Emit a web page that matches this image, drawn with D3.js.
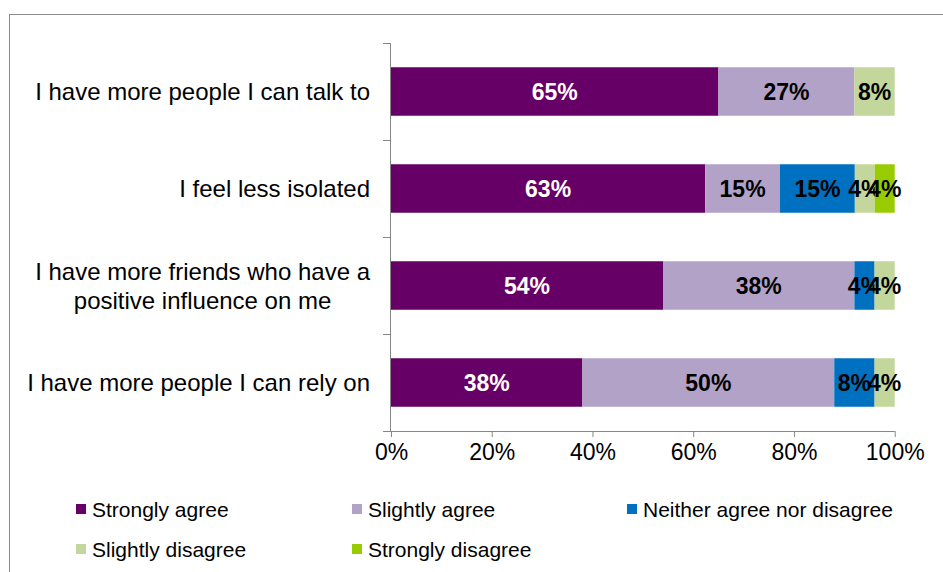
<!DOCTYPE html>
<html>
<head>
<meta charset="utf-8">
<script src="https://cdn.jsdelivr.net/npm/d3@7"></script>
<style>
  html, body { margin: 0; padding: 0; background: #fff; }
  svg { display: block; font-family: "Liberation Sans", Arial, sans-serif; }
</style>
</head>
<body>
<svg id="chart" width="943" height="572"></svg>
<script>
// Survey statements (top to bottom) and response shares in percent
const statements = [
  ["I have more people I can talk to"],
  ["I feel less isolated"],
  ["I have more friends who have a", "positive influence on me"],
  ["I have more people I can rely on"]
];
const responses = ["Strongly agree", "Slightly agree", "Neither agree nor disagree", "Slightly disagree", "Strongly disagree"];
const stronglyAgree    = [65, 63, 54, 38];
const slightlyAgree    = [27, 15, 38, 50];
const neither          = [0, 15, 4, 8];
const slightlyDisagree = [8, 4, 4, 4];
const stronglyDisagree = [0, 4, 0, 0];
const xTicks = [0, 0.2, 0.4, 0.6, 0.8, 1];

const colors = ["#660066", "#B3A2C7", "#0070C0", "#C3D69B", "#99CC00"];
const labelColors = ["#ffffff", "#000000", "#000000", "#000000", "#000000"];

const series = [stronglyAgree, slightlyAgree, neither, slightlyDisagree, stronglyDisagree];
const rows = statements.map((s, i) => {
  const r = { id: i };
  responses.forEach((k, j) => { r[k] = series[j][i]; });
  return r;
});

const stacked = d3.stack().keys(responses).offset(d3.stackOffsetExpand)(rows);

const svg = d3.select("#chart");

// outer chart frame
svg.append("rect")
  .attr("x", 9.5).attr("y", 14.5)
  .attr("width", 1000).attr("height", 700)
  .attr("fill", "none").attr("stroke", "#8c8c8c").attr("stroke-width", 1);

const plotLeft = 391, plotRight = 894.7, plotTop = 43, plotBottom = 431;

const x = d3.scaleLinear().domain([0, 1]).range([plotLeft, plotRight]);
const y = d3.scaleBand().domain(rows.map(r => r.id)).range([plotTop, plotBottom]).paddingInner(0.5).paddingOuter(0.25);

// bar segments
const layer = svg.append("g").selectAll("g")
  .data(stacked).join("g")
  .attr("fill", (d, i) => colors[i]);

layer.selectAll("rect")
  .data(d => d.map(p => ({ p, key: d.key })))
  .join("rect")
  .attr("x", d => x(d.p[0]))
  .attr("y", d => y(d.p.data.id))
  .attr("width", d => Math.max(0, x(d.p[1]) - x(d.p[0])))
  .attr("height", y.bandwidth());

// value labels
layer.each(function (d, i) {
  d3.select(this).selectAll("text")
    .data(d.filter(p => p.data[d.key] > 0))
    .join("text")
    .attr("x", p => (x(p[0]) + x(p[1])) / 2)
    .attr("y", p => y(p.data.id) + y.bandwidth() / 2)
    .attr("dy", "0.36em")
    .attr("text-anchor", "middle")
    .attr("fill", labelColors[i])
    .attr("font-size", 23)
    .attr("font-weight", "bold")
    .text(p => p.data[d.key] + "%");
});

const axisColor = "#868686";

// x axis
const xAxis = svg.append("g")
  .attr("transform", `translate(0,${plotBottom})`)
  .call(d3.axisBottom(x).tickValues(xTicks).tickFormat(d3.format(".0%")).tickSize(6).tickSizeOuter(0).tickPadding(7));
xAxis.select(".domain").attr("stroke", axisColor).attr("d", `M${plotLeft - 8},0.5H${plotRight}`);
xAxis.selectAll(".tick line").attr("stroke", axisColor);
xAxis.selectAll(".tick text").attr("font-size", 23).attr("fill", "#000").attr("font-family", "Liberation Sans, Arial, sans-serif");

// y axis with ticks between categories
const yAxis = svg.append("g");
yAxis.append("line")
  .attr("x1", plotLeft - 0.5).attr("x2", plotLeft - 0.5)
  .attr("y1", plotTop).attr("y2", plotBottom)
  .attr("stroke", axisColor);
const step = y.step();
yAxis.selectAll("line.tk")
  .data(d3.range(rows.length + 1))
  .join("line").attr("class", "tk")
  .attr("x1", plotLeft - 8).attr("x2", plotLeft)
  .attr("y1", i => plotTop + i * step + 0.5).attr("y2", i => plotTop + i * step + 0.5)
  .attr("stroke", axisColor);

// category labels, right aligned block with centered lines
const labelRight = 370, lineH = 29;
statements.forEach((lines, i) => {
  const g = svg.append("g");
  const cy = y(i) + y.bandwidth() / 2;
  const texts = lines.map((ln, k) => g.append("text")
    .attr("font-size", 24)
    .attr("fill", "#000")
    .attr("dy", "0.36em")
    .attr("y", cy + (k - (lines.length - 1) / 2) * lineH)
    .text(ln));
  const maxW = d3.max(texts, t => t.node().getComputedTextLength());
  texts.forEach(t => t.attr("text-anchor", "middle").attr("x", labelRight - maxW / 2));
});

// legend
const legendPos = [[76, 504], [352, 504], [627, 504], [76, 544], [352, 544]];
const legend = svg.append("g").selectAll("g")
  .data(responses).join("g")
  .attr("transform", (d, i) => `translate(${legendPos[i][0]},${legendPos[i][1]})`);
legend.append("rect")
  .attr("width", 10).attr("height", 10)
  .attr("fill", (d, i) => colors[i]);
legend.append("text")
  .attr("x", 16).attr("y", 5).attr("dy", "0.36em")
  .attr("font-size", 21).attr("fill", "#000")
  .text(d => d);
</script>
</body>
</html>
